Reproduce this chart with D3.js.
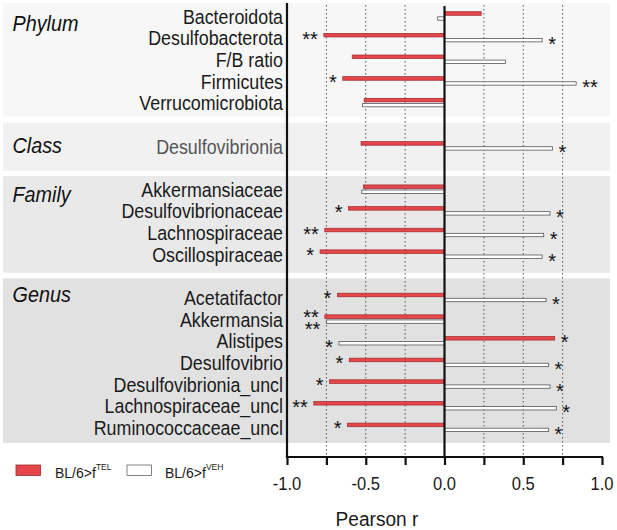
<!DOCTYPE html>
<html>
<head>
<meta charset="utf-8">
<script src="https://cdn.jsdelivr.net/npm/d3@7"></script>
<style>
  html, body { margin: 0; padding: 0; background: #fff; }
  svg { display: block; font-family: "Liberation Sans", Arial, sans-serif; }
</style>
</head>
<body>
<svg id="chart" width="617" height="530"></svg>
<script>
// ---------------- DATA ----------------
const groups = ["Phylum", "Class", "Family", "Genus"];
const categories = [
  "Bacteroidota", "Desulfobacterota", "F/B ratio", "Firmicutes", "Verrucomicrobiota",
  "Desulfovibrionia",
  "Akkermansiaceae", "Desulfovibrionaceae", "Lachnospiraceae", "Oscillospiraceae",
  "Acetatifactor", "Akkermansia", "Alistipes", "Desulfovibrio",
  "Desulfovibrionia_uncl", "Lachnospiraceae_uncl", "Ruminococcaceae_uncl"
];
const groupOf = [0, 0, 0, 0, 0, 1, 2, 2, 2, 2, 3, 3, 3, 3, 3, 3, 3];
const telValues = [0.233, -0.766, -0.586, -0.646, -0.51, -0.53, -0.515, -0.61, -0.76, -0.79,
                   -0.68, -0.76, 0.70, -0.605, -0.73, -0.83, -0.615];
const vehValues = [-0.043, 0.62, 0.387, 0.836, -0.52, 0.685, -0.525, 0.67, 0.63, 0.62,
                   0.645, -0.75, -0.67, 0.66, 0.67, 0.71, 0.66];
const telStars = ["", "**", "", "*", "", "", "", "*", "**", "*", "*", "**", "*", "*", "*", "**", "*"];
const vehStars = ["", "*", "", "**", "", "*", "", "*", "*", "*", "*", "**", "*", "*", "*", "*", "*"];
const tickValues = [-1, -0.75, -0.5, -0.25, 0, 0.25, 0.5, 0.75, 1];
const tickLabels = ["-1.0", "-0.5", "0.0", "0.5", "1.0"];
const tickLabelValues = [-1, -0.5, 0, 0.5, 1];
const seriesNames = ["BL/6>f", "BL/6>f"];
const seriesSup = ["TEL", "VEH"];

// ---------------- LAYOUT ----------------
const svg = d3.select("#chart");
const x = d3.scaleLinear().domain([-1, 1]).range([287, 602]);
const slotOf = categories.map((c, i) => i + groupOf[i]);
const y = d3.scaleLinear().domain([0, 19]).range([16, 427.4]);
const axisY = 457;
const panelFill = ["#f7f7f7", "#f1f1f1", "#e9e9e9", "#e1e1e1"];
const panelSlots = [[-0.6, 4.65], [4.93, 7.15], [7.39, 11.86], [12.12, 19.72]];
const groupLabelOffset = [28, 30, 26, 24];
const RED = "#e6454a";

function sText(g, tx, ty, sx, str, opts) {
  const t = g.append("text")
    .attr("transform", `translate(${tx},${ty}) scale(${sx},1)`)
    .text(str);
  for (const k in opts) t.attr(k, opts[k]);
  return t;
}

// panels
const panelG = svg.append("g");
groups.forEach((gname, gi) => {
  const top = y(panelSlots[gi][0]), bot = y(panelSlots[gi][1]);
  panelG.append("rect")
    .attr("x", 3).attr("y", top).attr("width", 607).attr("height", bot - top)
    .attr("fill", panelFill[gi]);
  sText(panelG, 12.5, top + groupLabelOffset[gi], 0.9, gname, {
    "font-size": 22, "font-style": "italic", "fill": "#111"
  });
});

// dotted grid lines
svg.append("g").selectAll("line")
  .data(tickValues.filter(v => v !== 0 && Math.abs(v) !== 1))
  .join("line")
  .attr("x1", d => x(d)).attr("x2", d => x(d))
  .attr("y1", 5).attr("y2", axisY)
  .attr("stroke", "#555").attr("stroke-width", 1)
  .attr("stroke-dasharray", "1.5,2.5");

// category labels
const labG = svg.append("g");
categories.forEach((c, i) => {
  sText(labG, 283, y(slotOf[i]) + 7.6, 0.87, c, {
    "font-size": 20.5, "text-anchor": "end",
    "fill": groupOf[i] === 1 ? "#555" : "#1a1a1a"
  });
});

// bars
const barG = svg.append("g");
barG.selectAll("rect.tel")
  .data(telValues)
  .join("rect").attr("class", "tel")
  .attr("x", d => Math.min(x(0), x(d)))
  .attr("width", d => Math.abs(x(d) - x(0)))
  .attr("y", (d, i) => y(slotOf[i]) - 4.3)
  .attr("height", 3.6)
  .attr("fill", RED).attr("stroke", "#9a2a2e").attr("stroke-width", 0.7);
barG.selectAll("rect.veh")
  .data(vehValues)
  .join("rect").attr("class", "veh")
  .attr("x", d => Math.min(x(0), x(d)))
  .attr("width", d => Math.abs(x(d) - x(0)))
  .attr("y", (d, i) => y(slotOf[i]) + 0.8)
  .attr("height", 3.4)
  .attr("fill", "#fff").attr("stroke", "#555").attr("stroke-width", 0.8);

// stars
const starG = svg.append("g").attr("font-size", 20).attr("fill", "#111");
function addStars(values, stars, otherValues, otherStars, off, dir) {
  values.forEach((v, i) => {
    if (!stars[i]) return;
    // when both series put stars on the same side, spread them apart vertically
    const sameSide = otherStars[i] && Math.sign(otherValues[i]) === Math.sign(v);
    const cy = y(slotOf[i]) + off + (sameSide ? dir * 3.5 : 0);
    starG.append("text")
      .attr("x", v < 0 ? x(v) - 6 : x(v) + 6)
      .attr("y", cy + 9.5)
      .attr("text-anchor", v < 0 ? "end" : "start")
      .text(stars[i]);
  });
}
addStars(telValues, telStars, vehValues, vehStars, -1.5, -1);
addStars(vehValues, vehStars, telValues, telStars, 4, 1);

// vertical lines: left axis & zero line
svg.append("line").attr("x1", x(-1)).attr("x2", x(-1)).attr("y1", 3).attr("y2", axisY)
  .attr("stroke", "#111").attr("stroke-width", 2.2);
svg.append("line").attr("x1", x(0)).attr("x2", x(0)).attr("y1", 6).attr("y2", axisY)
  .attr("stroke", "#111").attr("stroke-width", 2.2);

// bottom axis
const axisG = svg.append("g").attr("transform", `translate(0,${axisY})`)
  .call(d3.axisBottom(x).tickValues(tickValues).tickSize(8).tickSizeOuter(0).tickFormat(""));
axisG.select(".domain").attr("stroke", "#111").attr("stroke-width", 2.2)
  .attr("d", `M${x(-1) - 1.1},0H${x(1) + 1.1}`);
axisG.selectAll(".tick line").attr("stroke", "#111").attr("stroke-width", 2.2);

const tickG = svg.append("g");
tickLabelValues.forEach((v, i) => {
  sText(tickG, x(v), 490, 0.89, tickLabels[i], {
    "font-size": 18.6, "text-anchor": "middle", "fill": "#1a1a1a"
  });
});
sText(svg, 377, 526, 0.91, "Pearson r", {
  "font-size": 21, "text-anchor": "middle", "fill": "#1a1a1a"
});

// legend
const legG = svg.append("g");
const legSw = [16, 127];
const legTx = [55, 165];
[0, 1].forEach(i => {
  legG.append("rect").attr("x", legSw[i]).attr("y", 465).attr("width", 24.5).attr("height", 10.5)
    .attr("fill", i === 0 ? RED : "#fff")
    .attr("stroke", i === 0 ? "#9a2a2e" : "#666").attr("stroke-width", 0.8);
  const t = legG.append("text").attr("x", legTx[i]).attr("y", 477.7)
    .attr("font-size", 14).attr("fill", "#1a1a1a");
  t.append("tspan").text(seriesNames[i]);
  t.append("tspan").attr("font-size", 8.5).attr("dy", -7.5).text(seriesSup[i]);
});
</script>
</body>
</html>
